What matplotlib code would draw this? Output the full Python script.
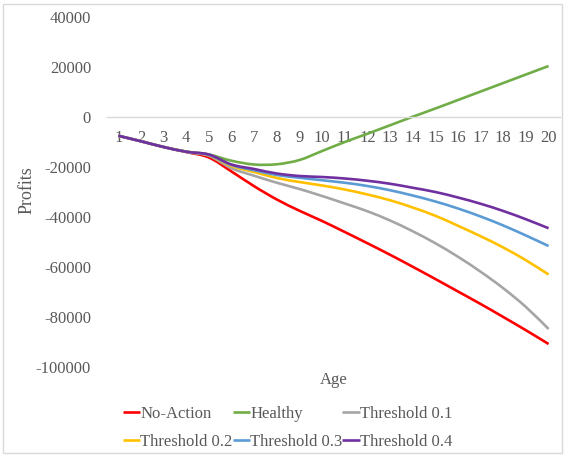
import matplotlib
matplotlib.use("Agg")
import matplotlib.pyplot as plt
from matplotlib.patches import Rectangle, PathPatch
from matplotlib.path import Path
from matplotlib.lines import Line2D

plt.rcParams['font.family'] = ['Liberation Serif', 'DejaVu Serif']
plt.rcParams['axes.unicode_minus'] = False

# Age categories and profit curves per policy
ages = list(range(1, 21))
no_action = [-7500, -9700, -12000, -14000, -16200, -21800, -27700, -33000, -37500, -41600,
             -46000, -50500, -55100, -59900, -64800, -69800, -74800, -80000, -85300, -90800]
healthy = [-7500, -9700, -12000, -13800, -15000, -17500, -19000, -18900, -17200, -13600,
           -10000, -6700, -3300, 100, 3400, 6800, 10200, 13600, 17000, 20400]
thr_01 = [-7500, -9700, -12000, -13900, -15500, -20500, -23500, -26300, -28800, -31600,
          -34600, -37700, -41400, -45700, -50500, -55900, -61900, -68500, -76000, -84800]
thr_02 = [-7500, -9700, -12000, -13900, -15300, -19600, -22000, -24400, -26000, -27400,
          -29000, -31000, -33300, -36200, -39500, -43500, -47700, -52200, -57300, -63000]
thr_03 = [-7500, -9700, -12000, -13900, -15200, -19200, -21300, -23200, -24300, -25300,
          -26300, -27600, -29300, -31400, -33800, -36600, -39800, -43400, -47400, -51600]
thr_04 = [-7500, -9700, -12000, -13900, -15000, -19000, -20800, -22600, -23600, -24000,
          -24600, -25500, -26700, -28300, -30000, -32200, -34700, -37600, -40900, -44500]

series = [
    ("No-Action", no_action, "#FF0000"),
    ("Healthy", healthy, "#70AD47"),
    ("Threshold 0.1", thr_01, "#A5A5A5"),
    ("Threshold 0.2", thr_02, "#FFC000"),
    ("Threshold 0.3", thr_03, "#5B9BD5"),
    ("Threshold 0.4", thr_04, "#7030A0"),
]

text_color = "#595959"


def smooth_path(xs, ys):
    # cubic bezier through every point, catmull-rom style tangents
    verts = [(xs[0], ys[0])]
    codes = [Path.MOVETO]
    n = len(xs)
    for i in range(n - 1):
        x0, y0 = xs[max(i - 1, 0)], ys[max(i - 1, 0)]
        x1, y1 = xs[i], ys[i]
        x2, y2 = xs[i + 1], ys[i + 1]
        x3, y3 = xs[min(i + 2, n - 1)], ys[min(i + 2, n - 1)]
        c1 = (x1 + (x2 - x0) / 6, y1 + (y2 - y0) / 6)
        c2 = (x2 - (x3 - x1) / 6, y2 - (y3 - y1) / 6)
        verts += [c1, c2, (x2, y2)]
        codes += [Path.CURVE4] * 3
    return Path(verts, codes)


fig = plt.figure(figsize=(5.65, 4.57), dpi=100)
ax = fig.add_axes([0.1894, 0.1969, 0.8016, 0.7659])

handles = []
for name, vals, color in series:
    ax.add_patch(PathPatch(smooth_path(ages, vals), fill=False, edgecolor=color,
                           lw=1.9, capstyle='butt', zorder=2))
    handles.append(Line2D([], [], color=color, lw=1.9, solid_capstyle='butt'))

ax.set_xlim(0.5, 20.5)
ax.set_ylim(-100000, 40000)
ax.set_yticks(range(-100000, 40001, 20000))
ax.set_xticks(ages)

# category axis sits on the zero line
for side in ['left', 'right', 'top']:
    ax.spines[side].set_visible(False)
ax.spines['bottom'].set_position(('data', 0))
ax.spines['bottom'].set_color('#D9D9D9')
ax.spines['bottom'].set_linewidth(1.0)

ax.tick_params(axis='x', length=0, pad=9, labelsize=12, labelcolor=text_color)
ax.tick_params(axis='y', length=0, pad=11.5, labelsize=12, labelcolor=text_color)

ax.text(-0.1766, 0.506, "Profits", transform=ax.transAxes, rotation=90,
        ha='center', va='center', fontsize=13, color=text_color)
ax.text(0.5, -0.037, "Age", transform=ax.transAxes, ha='center', va='center',
        fontsize=12, color=text_color)

# legend filled row by row
order = [0, 3, 1, 4, 2, 5]
leg = fig.legend([handles[i] for i in order], [series[i][0] for i in order],
                 loc='center', bbox_to_anchor=(0.509, 0.064), ncol=3, frameon=False,
                 fontsize=12, handlelength=1.05, handletextpad=0.0, columnspacing=0.0,
                 labelspacing=0.7, borderpad=0)
for t in leg.get_texts():
    t.set_color(text_color)

# chart border
fig.patches.append(Rectangle((0.006, 0.008), 0.988, 0.984, transform=fig.transFigure,
                             fill=False, edgecolor='#D9D9D9', lw=1.0))

fig.savefig("out.png", dpi=100)
